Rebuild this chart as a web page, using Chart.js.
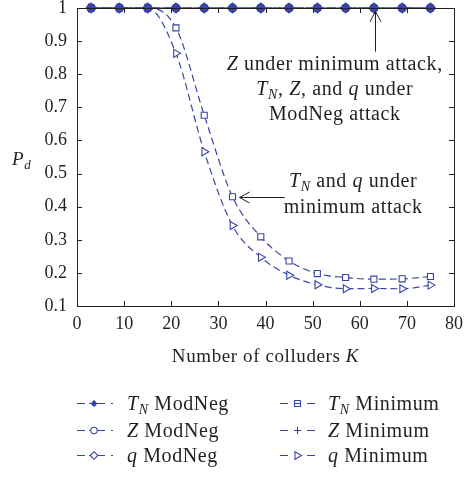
<!DOCTYPE html>
<html>
<head>
<meta charset="utf-8">
<script src="https://cdn.jsdelivr.net/npm/chart.js@4/dist/chart.umd.min.js"></script>
<style>
  html, body { margin: 0; padding: 0; background: #fff; }
  #pd-chart { display: block; }
</style>
</head>
<body>
<canvas id="pd-chart" width="464" height="477"></canvas>
<script>
// number of colluders K
const colluders = [3, 9, 15, 21, 27, 33, 39, 45, 51, 57, 63, 69, 75];

// P_d under ModNeg attack (all three detectors stay at 1)
const tnModNeg = [1, 1, 1, 1, 1, 1, 1, 1, 1, 1, 1, 1, 1];
const zModNeg  = [1, 1, 1, 1, 1, 1, 1, 1, 1, 1, 1, 1, 1];
const qModNeg  = [1, 1, 1, 1, 1, 1, 1, 1, 1, 1, 1, 1, 1];

// P_d under minimum attack
const tnMinimum = [1, 1, 1, 0.94, 0.676, 0.43, 0.309, 0.236, 0.198, 0.186, 0.181, 0.182, 0.189];
const zMinimum  = [1, 1, 1, 1, 1, 1, 1, 1, 1, 1, 1, 1, 1];
const qMinimum  = [1, 1, 1, 0.863, 0.566, 0.343, 0.247, 0.193, 0.164, 0.152, 0.153, 0.152, 0.163];

const xTickLabels = ['0', '10', '20', '30', '40', '50', '60', '70', '80'];
const yTickLabels = ['0.1', '0.2', '0.3', '0.4', '0.5', '0.6', '0.7', '0.8', '0.9', '1'];

const BLUE = '#3a44a6';
const INK = '#231f20';
const SERIF = '"Liberation Serif", "Times New Roman", serif';

const DASH_DOT = [8, 3, 2, 3];
const DASHED = [7, 4];

function pts(ys) {
  return colluders.map((x, i) => ({ x: x, y: ys[i] }));
}

function series(label, ys, style) {
  return Object.assign({
    label: label,
    data: pts(ys),
    borderColor: BLUE,
    pointBorderColor: BLUE,
    pointBackgroundColor: '#fff',
    borderWidth: 1.2,
    pointBorderWidth: 1.1,
    cubicInterpolationMode: 'monotone',
    clip: false,
    fill: false,
  }, style);
}

// draw "text" pieces with mixed italic / subscript
function richText(ctx, parts, x, y, size, align) {
  const widths = parts.map(p => {
    ctx.font = fontFor(p, size);
    return ctx.measureText(p.t).width;
  });
  const total = widths.reduce((a, b) => a + b, 0);
  let cx = align === 'center' ? x - total / 2 : x;
  parts.forEach((p, i) => {
    ctx.font = fontFor(p, size);
    ctx.fillText(p.t, cx, y + (p.sub ? size * 0.22 : 0));
    cx += widths[i];
  });
}

function fontFor(p, size) {
  const s = p.sub ? Math.round(size * 0.68) : size;
  return (p.i || p.sub ? 'italic ' : '') + s + 'px ' + SERIF;
}

// small marker shapes for the legend
function marker(ctx, kind, x, y) {
  ctx.save();
  ctx.strokeStyle = BLUE;
  ctx.fillStyle = BLUE;
  ctx.lineWidth = 1.1;
  ctx.setLineDash([]);
  ctx.beginPath();
  if (kind === 'star') {
    ctx.arc(x, y, 2.6, 0, Math.PI * 2);
    ctx.fill();
    ctx.beginPath();
    ctx.moveTo(x - 3.5, y); ctx.lineTo(x + 3.5, y);
    ctx.moveTo(x, y - 3.5); ctx.lineTo(x, y + 3.5);
    ctx.stroke();
  } else if (kind === 'circle') {
    ctx.fillStyle = '#fff';
    ctx.arc(x, y, 3.2, 0, Math.PI * 2);
    ctx.fill(); ctx.stroke();
  } else if (kind === 'diamond') {
    ctx.fillStyle = '#fff';
    ctx.moveTo(x, y - 3.8); ctx.lineTo(x + 3.8, y); ctx.lineTo(x, y + 3.8); ctx.lineTo(x - 3.8, y);
    ctx.closePath(); ctx.fill(); ctx.stroke();
  } else if (kind === 'square') {
    ctx.fillStyle = '#fff';
    ctx.rect(x - 3, y - 3, 6, 6);
    ctx.fill(); ctx.stroke();
    ctx.beginPath(); ctx.moveTo(x - 3, y); ctx.lineTo(x + 3, y); ctx.stroke();
  } else if (kind === 'plus') {
    ctx.moveTo(x - 3.8, y); ctx.lineTo(x + 3.8, y);
    ctx.moveTo(x, y - 3.8); ctx.lineTo(x, y + 3.8);
    ctx.stroke();
  } else if (kind === 'tri') {
    ctx.fillStyle = '#fff';
    ctx.moveTo(x + 4, y); ctx.lineTo(x - 2.5, y - 3.8); ctx.lineTo(x - 2.5, y + 3.8);
    ctx.closePath(); ctx.fill(); ctx.stroke();
  }
  ctx.restore();
}

const legendItems = [
  { col: 0, row: 0, kind: 'star',    parts: [{ t: 'T', i: 1 }, { t: 'N', sub: 1 }, { t: ' ModNeg' }] },
  { col: 0, row: 1, kind: 'circle',  parts: [{ t: 'Z', i: 1 }, { t: ' ModNeg' }] },
  { col: 0, row: 2, kind: 'diamond', parts: [{ t: 'q', i: 1 }, { t: ' ModNeg' }] },
  { col: 1, row: 0, kind: 'square',  parts: [{ t: 'T', i: 1 }, { t: 'N', sub: 1 }, { t: ' Minimum' }] },
  { col: 1, row: 1, kind: 'plus',    parts: [{ t: 'Z', i: 1 }, { t: ' Minimum' }] },
  { col: 1, row: 2, kind: 'tri',     parts: [{ t: 'q', i: 1 }, { t: ' Minimum' }] },
];

const decorations = {
  id: 'decorations',
  afterDatasetsDraw(chart) {
    const ctx = chart.ctx;
    const a = chart.chartArea;
    const xs = chart.scales.x;
    const ys = chart.scales.y;
    ctx.save();

    // frame + inward ticks on all four sides
    ctx.strokeStyle = INK;
    ctx.lineWidth = 1;
    ctx.strokeRect(Math.round(a.left) + 0.5, Math.round(a.top) + 0.5,
      Math.round(a.right - a.left), Math.round(a.bottom - a.top));
    ctx.beginPath();
    xs.ticks.forEach(t => {
      const px = Math.round(xs.getPixelForValue(t.value)) + 0.5;
      ctx.moveTo(px, a.bottom); ctx.lineTo(px, a.bottom - 5);
      ctx.moveTo(px, a.top); ctx.lineTo(px, a.top + 5);
    });
    ys.ticks.forEach(t => {
      const py = Math.round(ys.getPixelForValue(t.value)) + 0.5;
      ctx.moveTo(a.left, py); ctx.lineTo(a.left + 5, py);
      ctx.moveTo(a.right, py); ctx.lineTo(a.right - 5, py);
    });
    ctx.stroke();

    ctx.fillStyle = INK;
    ctx.textBaseline = 'alphabetic';
    ctx.letterSpacing = '0.6px';

    // axis titles
    richText(ctx, [{ t: 'Number of colluders ' }, { t: 'K', i: 1 }], (a.left + a.right) / 2, 362, 19, 'center');
    richText(ctx, [{ t: 'P', i: 1 }, { t: 'd', sub: 1 }], 12, 165, 19, 'left');

    // annotation: top curves
    const c1 = xs.getPixelForValue(54.7);
    richText(ctx, [{ t: 'Z', i: 1 }, { t: ' under minimum attack,' }], c1, 70, 20, 'center');
    richText(ctx, [{ t: 'T', i: 1 }, { t: 'N', sub: 1 }, { t: ', ' }, { t: 'Z', i: 1 }, { t: ', and ' }, { t: 'q', i: 1 }, { t: ' under' }], c1, 95, 20, 'center');
    richText(ctx, [{ t: 'ModNeg attack' }], c1, 120, 20, 'center');

    // annotation: minimum attack curves
    const c2 = xs.getPixelForValue(58.6);
    richText(ctx, [{ t: 'T', i: 1 }, { t: 'N', sub: 1 }, { t: ' and ' }, { t: 'q', i: 1 }, { t: ' under' }], c2, 187, 20, 'center');
    richText(ctx, [{ t: 'minimum attack' }], c2, 213, 20, 'center');

    // arrows
    ctx.strokeStyle = INK;
    ctx.lineWidth = 1;
    const ax = Math.round(xs.getPixelForValue(63.3)) + 0.5;
    const aTop = ys.getPixelForValue(0.989);
    const aBot = ys.getPixelForValue(0.868);
    ctx.beginPath();
    ctx.moveTo(ax, aBot); ctx.lineTo(ax, aTop);
    ctx.moveTo(ax - 5.5, aTop + 10); ctx.lineTo(ax, aTop); ctx.lineTo(ax + 5.5, aTop + 10);
    ctx.stroke();

    const by = Math.round(ys.getPixelForValue(0.43)) + 0.5;
    const bTip = xs.getPixelForValue(34.5);
    const bEnd = xs.getPixelForValue(44.1);
    ctx.beginPath();
    ctx.moveTo(bEnd, by); ctx.lineTo(bTip, by);
    ctx.moveTo(bTip + 10, by - 5.5); ctx.lineTo(bTip, by); ctx.lineTo(bTip + 10, by + 5.5);
    ctx.stroke();

    // legend, two columns of three
    const rowY = [403, 430, 455];
    legendItems.forEach(it => {
      const y = rowY[it.row] + 0.5;
      ctx.strokeStyle = BLUE;
      ctx.lineWidth = 1.2;
      ctx.beginPath();
      if (it.col === 0) {
        ctx.moveTo(77, y); ctx.lineTo(85, y);
        ctx.moveTo(89, y); ctx.lineTo(105, y);
        ctx.moveTo(111, y); ctx.lineTo(113, y);
        ctx.stroke();
        marker(ctx, it.kind, 94, y);
      } else {
        ctx.moveTo(280, y); ctx.lineTo(288, y);
        ctx.moveTo(307, y); ctx.lineTo(315, y);
        ctx.stroke();
        marker(ctx, it.kind, 297.5, y);
      }
      ctx.fillStyle = INK;
      richText(ctx, it.parts, it.col === 0 ? 127 : 328, rowY[it.row] + 7, 20, 'left');
    });

    ctx.restore();
  }
};

new Chart(document.getElementById('pd-chart'), {
  type: 'line',
  data: {
    datasets: [
      series('TN ModNeg', tnModNeg, { borderDash: DASH_DOT, pointStyle: 'star', pointRadius: 4.5, pointBorderWidth: 1.6 }),
      series('Z ModNeg', zModNeg, { borderDash: DASH_DOT, borderDashOffset: 4, pointStyle: 'circle', pointRadius: 4, pointBackgroundColor: BLUE }),
      series('q ModNeg', qModNeg, { borderDash: DASH_DOT, borderDashOffset: 8, pointStyle: 'rectRot', pointRadius: 5, pointBackgroundColor: BLUE }),
      series('TN Minimum', tnMinimum, { borderDash: DASHED, pointStyle: 'rect', pointRadius: 4.3 }),
      series('Z Minimum', zMinimum, { borderDash: DASHED, borderDashOffset: 5, pointStyle: 'cross', pointRadius: 4.5 }),
      series('q Minimum', qMinimum, { borderDash: DASHED, pointStyle: 'triangle', pointRotation: 90, pointRadius: 4.6 }),
    ],
  },
  options: {
    responsive: false,
    animation: false,
    layout: { autoPadding: false, padding: { left: 0, top: 0, right: 0, bottom: 131 } },
    plugins: { legend: { display: false }, tooltip: { enabled: false } },
    scales: {
      x: {
        type: 'linear',
        min: 0,
        max: 80,
        grid: { display: false, drawTicks: false },
        border: { display: false },
        ticks: {
          stepSize: 10,
          autoSkip: false,
          maxRotation: 0,
          padding: 9,
          color: INK,
          font: { family: SERIF, size: 18, lineHeight: 1 },
          callback: (v) => xTickLabels[Math.round(v / 10)],
        },
        afterFit: (scale) => {
          scale.height = 40;
          scale.paddingLeft = 0;
          scale.paddingRight = 10;
        },
      },
      y: {
        min: 0.1,
        max: 1,
        grid: { display: false, drawTicks: false },
        border: { display: false },
        ticks: {
          stepSize: 0.1,
          autoSkip: false,
          padding: 10,
          color: INK,
          font: { family: SERIF, size: 18, lineHeight: 1 },
          callback: (v) => yTickLabels[Math.round(v * 10) - 1],
        },
        afterFit: (scale) => {
          scale.width = 77;
          scale.paddingTop = 8;
          scale.paddingBottom = 0;
        },
      },
    },
  },
  plugins: [decorations],
});
</script>
</body>
</html>
